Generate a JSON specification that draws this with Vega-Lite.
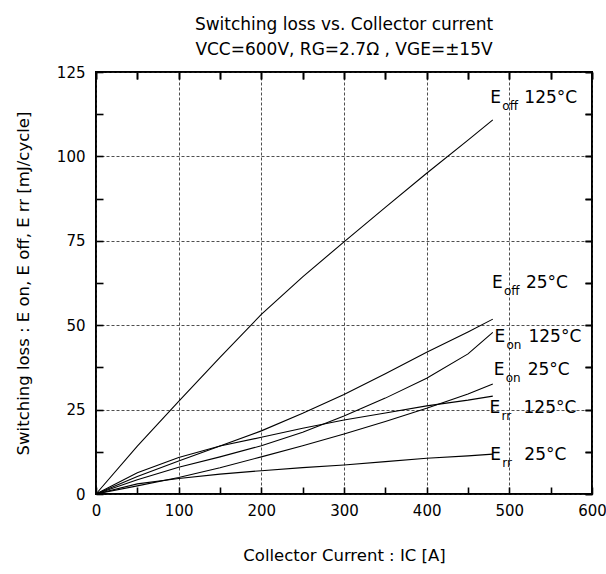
{
  "$schema": "https://vega.github.io/schema/vega-lite/v6.json",
  "width": 496,
  "height": 422,
  "autosize": {"type": "none"},
  "padding": {"left": 96, "top": 72, "right": 14, "bottom": 80},
  "background": "white",
  "config": {
    "view": {"stroke": "#000", "strokeWidth": 2},
    "font": "DejaVu Sans"
  },
  "title": {
    "text": "Switching loss vs. Collector current",
    "subtitle": "VCC=600V, RG=2.7Ω , VGE=±15V",
    "font": "DejaVu Sans",
    "subtitleFont": "DejaVu Sans",
    "fontSize": 17,
    "subtitleFontSize": 17,
    "fontWeight": "normal",
    "color": "#000",
    "subtitleColor": "#000",
    "anchor": "middle",
    "offset": 6,
    "subtitlePadding": 8
  },
  "datasets": {
    "curves": [
      {"curve": "Eoff 125°C", "I": 0, "E": 0},
      {"curve": "Eoff 125°C", "I": 50, "E": 14.2},
      {"curve": "Eoff 125°C", "I": 100, "E": 27.4},
      {"curve": "Eoff 125°C", "I": 150, "E": 40.5},
      {"curve": "Eoff 125°C", "I": 200, "E": 53.2},
      {"curve": "Eoff 125°C", "I": 250, "E": 64.3},
      {"curve": "Eoff 125°C", "I": 300, "E": 74.7},
      {"curve": "Eoff 125°C", "I": 350, "E": 84.9},
      {"curve": "Eoff 125°C", "I": 400, "E": 95.0},
      {"curve": "Eoff 125°C", "I": 450, "E": 104.8},
      {"curve": "Eoff 125°C", "I": 480, "E": 110.8},
      {"curve": "Eoff 25°C", "I": 0, "E": 0},
      {"curve": "Eoff 25°C", "I": 50, "E": 5.2},
      {"curve": "Eoff 25°C", "I": 100, "E": 9.8},
      {"curve": "Eoff 25°C", "I": 150, "E": 14.2},
      {"curve": "Eoff 25°C", "I": 200, "E": 18.7},
      {"curve": "Eoff 25°C", "I": 250, "E": 23.9},
      {"curve": "Eoff 25°C", "I": 300, "E": 29.5},
      {"curve": "Eoff 25°C", "I": 350, "E": 35.6},
      {"curve": "Eoff 25°C", "I": 400, "E": 42.0},
      {"curve": "Eoff 25°C", "I": 450, "E": 48.0},
      {"curve": "Eoff 25°C", "I": 480, "E": 51.8},
      {"curve": "Eon 125°C", "I": 0, "E": 0},
      {"curve": "Eon 125°C", "I": 50, "E": 4.2},
      {"curve": "Eon 125°C", "I": 100, "E": 7.9},
      {"curve": "Eon 125°C", "I": 150, "E": 11.0},
      {"curve": "Eon 125°C", "I": 200, "E": 14.3},
      {"curve": "Eon 125°C", "I": 250, "E": 18.3},
      {"curve": "Eon 125°C", "I": 300, "E": 23.1},
      {"curve": "Eon 125°C", "I": 350, "E": 28.4},
      {"curve": "Eon 125°C", "I": 400, "E": 34.3},
      {"curve": "Eon 125°C", "I": 450, "E": 41.5},
      {"curve": "Eon 125°C", "I": 480, "E": 47.9},
      {"curve": "Eon 25°C", "I": 0, "E": 0},
      {"curve": "Eon 25°C", "I": 50, "E": 2.4},
      {"curve": "Eon 25°C", "I": 100, "E": 4.9},
      {"curve": "Eon 25°C", "I": 150, "E": 7.8},
      {"curve": "Eon 25°C", "I": 200, "E": 11.0},
      {"curve": "Eon 25°C", "I": 250, "E": 14.3},
      {"curve": "Eon 25°C", "I": 300, "E": 17.8},
      {"curve": "Eon 25°C", "I": 350, "E": 21.5},
      {"curve": "Eon 25°C", "I": 400, "E": 25.4},
      {"curve": "Eon 25°C", "I": 450, "E": 29.6},
      {"curve": "Eon 25°C", "I": 480, "E": 32.6},
      {"curve": "Err 125°C", "I": 0, "E": 0},
      {"curve": "Err 125°C", "I": 50, "E": 6.3},
      {"curve": "Err 125°C", "I": 100, "E": 10.8},
      {"curve": "Err 125°C", "I": 150, "E": 14.2},
      {"curve": "Err 125°C", "I": 200, "E": 16.8},
      {"curve": "Err 125°C", "I": 250, "E": 19.5},
      {"curve": "Err 125°C", "I": 300, "E": 21.9},
      {"curve": "Err 125°C", "I": 350, "E": 24.0},
      {"curve": "Err 125°C", "I": 400, "E": 26.1},
      {"curve": "Err 125°C", "I": 450, "E": 27.8},
      {"curve": "Err 125°C", "I": 480, "E": 29.0},
      {"curve": "Err 25°C", "I": 0, "E": 0},
      {"curve": "Err 25°C", "I": 50, "E": 3.0},
      {"curve": "Err 25°C", "I": 100, "E": 4.6},
      {"curve": "Err 25°C", "I": 150, "E": 5.9},
      {"curve": "Err 25°C", "I": 200, "E": 6.9},
      {"curve": "Err 25°C", "I": 250, "E": 7.8},
      {"curve": "Err 25°C", "I": 300, "E": 8.6},
      {"curve": "Err 25°C", "I": 350, "E": 9.6},
      {"curve": "Err 25°C", "I": 400, "E": 10.6},
      {"curve": "Err 25°C", "I": 450, "E": 11.3},
      {"curve": "Err 25°C", "I": 480, "E": 11.8}
    ],
    "labels": [
      {"sub": "off", "temp": "125°C", "lx": 477, "ly": 115.8},
      {"sub": "off", "temp": "25°C", "lx": 479, "ly": 61.0},
      {"sub": "on", "temp": "125°C", "lx": 482, "ly": 45.1},
      {"sub": "on", "temp": "25°C", "lx": 481, "ly": 35.2},
      {"sub": "rr", "temp": "125°C", "lx": 476, "ly": 23.9},
      {"sub": "rr", "temp": "25°C", "lx": 477, "ly": 10.1}
    ]
  },
  "resolve": {"axis": {"x": "independent", "y": "independent"}},
  "layer": [
    {
      "data": {"name": "curves"},
      "mark": {"type": "line", "color": "#000", "strokeWidth": 1.1},
      "encoding": {
        "x": {
          "field": "I", "type": "quantitative",
          "scale": {"domain": [0, 600], "nice": false},
          "axis": {
            "orient": "bottom",
            "values": [0, 100, 200, 300, 400, 500, 600],
            "title": "Collector Current : IC [A]",
            "domain": false,
            "ticks": false,
            "grid": true,
            "gridColor": "#222",
            "gridDash": [3, 2],
            "gridWidth": 0.8,
            "labelFontSize": 15,
            "labelColor": "#000",
            "labelPadding": 9,
            "labelFlush": false,
            "labelOverlap": false,
            "titleFontSize": 16.5,
            "titleFontWeight": "normal",
            "titleColor": "#000",
            "titlePadding": 29
          }
        },
        "y": {
          "field": "E", "type": "quantitative",
          "scale": {"domain": [0, 125], "nice": false},
          "axis": {
            "orient": "left",
            "values": [0, 25, 50, 75, 100, 125],
            "title": "Switching loss : E on, E off, E rr [mJ/cycle]",
            "domain": false,
            "ticks": false,
            "grid": true,
            "gridColor": "#222",
            "gridDash": [3, 2],
            "gridWidth": 0.8,
            "labelFontSize": 15,
            "labelColor": "#000",
            "labelPadding": 11,
            "labelFlush": false,
            "labelOverlap": false,
            "titleFontSize": 16.5,
            "titleFontWeight": "normal",
            "titleColor": "#000",
            "titlePadding": 25
          }
        },
        "detail": {"field": "curve", "type": "nominal"}
      }
    },
    {
      "data": {"name": "labels"},
      "mark": {"type": "text", "text": "E", "align": "left", "baseline": "alphabetic", "fontSize": 17, "color": "#000"},
      "encoding": {
        "x": {
          "field": "lx", "type": "quantitative",
          "axis": {
            "orient": "top", "offset": -7, "tickSize": 7,
            "values": [0, 50, 100, 150, 200, 250, 300, 350, 400, 450, 500, 550, 600],
            "labels": false, "title": null, "grid": false, "domain": false,
            "tickColor": "#000", "tickWidth": 1.6
          }
        },
        "y": {
          "field": "ly", "type": "quantitative",
          "axis": {
            "orient": "right", "tickSize": -7,
            "values": [0, 12.5, 25, 37.5, 50, 62.5, 75, 87.5, 100, 112.5, 125],
            "labels": false, "title": null, "grid": false, "domain": false,
            "tickColor": "#000", "tickWidth": 1.6
          }
        }
      }
    },
    {
      "data": {"name": "labels"},
      "mark": {"type": "text", "align": "left", "baseline": "alphabetic", "fontSize": 12, "dx": 12, "dy": 7, "color": "#000"},
      "encoding": {
        "x": {
          "field": "lx", "type": "quantitative",
          "axis": {
            "orient": "bottom", "offset": -7, "tickSize": 7,
            "values": [0, 50, 100, 150, 200, 250, 300, 350, 400, 450, 500, 550, 600],
            "labels": false, "title": null, "grid": false, "domain": false,
            "tickColor": "#000", "tickWidth": 1.6
          }
        },
        "y": {
          "field": "ly", "type": "quantitative",
          "axis": {
            "orient": "left", "tickSize": -7,
            "values": [0, 12.5, 25, 37.5, 50, 62.5, 75, 87.5, 100, 112.5, 125],
            "labels": false, "title": null, "grid": false, "domain": false,
            "tickColor": "#000", "tickWidth": 1.6
          }
        },
        "text": {"field": "sub"}
      }
    },
    {
      "data": {"name": "labels"},
      "mark": {"type": "text", "align": "left", "baseline": "alphabetic", "fontSize": 17, "dx": 34, "color": "#000"},
      "encoding": {
        "x": {
          "field": "lx", "type": "quantitative",
          "axis": {
            "orient": "top", "offset": -7, "tickSize": 7,
            "values": [0, 50, 100, 150, 200, 250, 300, 350, 400, 450, 500, 550, 600],
            "labels": false, "title": null, "grid": false, "domain": false,
            "tickColor": "#000", "tickWidth": 1.6
          }
        },
        "y": {
          "field": "ly", "type": "quantitative",
          "axis": {
            "orient": "right", "tickSize": -7,
            "values": [0, 12.5, 25, 37.5, 50, 62.5, 75, 87.5, 100, 112.5, 125],
            "labels": false, "title": null, "grid": false, "domain": false,
            "tickColor": "#000", "tickWidth": 1.6
          }
        },
        "text": {"field": "temp"}
      }
    }
  ]
}
